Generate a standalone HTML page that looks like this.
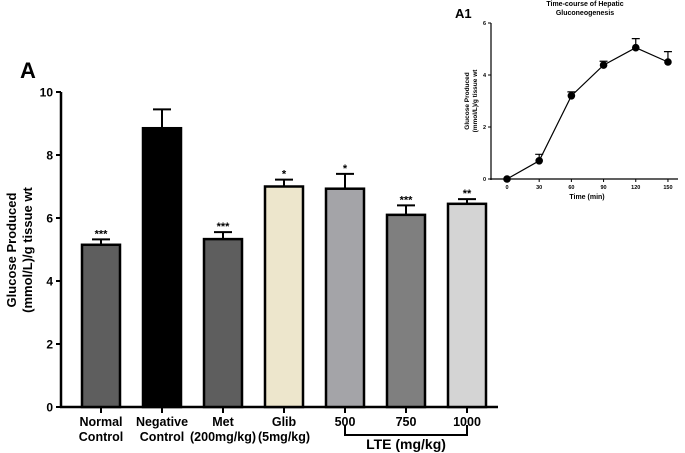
<!DOCTYPE html>
<html><head><meta charset="utf-8"><style>
body{margin:0;background:#fff;}
svg{display:block;font-family:"Liberation Sans",Arial,sans-serif;font-weight:bold;}
</style></head><body>
<svg id="chart" width="685" height="453" viewBox="0 0 685 453"></svg>
<script>
const categories=["Normal|Control","Negative|Control","Met|(200mg/kg)","Glib|(5mg/kg)","500","750","1000"];
const means=[5.15,8.85,5.33,7.0,6.93,6.1,6.45];
const errs=[0.17,0.6,0.22,0.22,0.47,0.3,0.15];
const stars=["***","","***","*","*","***","**"];
const colors=["#5e5e5e","#000000","#5e5e5e","#ede6cc","#a4a4a8","#7f7f7f","#d4d4d4"];
const yTicks=[0,2,4,6,8,10];
const timeX=[0,30,60,90,120,150];
const timeY=[0,0.7,3.2,4.38,5.05,4.5];
const timeErr=[0,0.25,0.15,0.15,0.35,0.4];
const insetYTicks=[0,2,4,6];

const NS="http://www.w3.org/2000/svg";
const svg=document.getElementById('chart');
function el(t,a,txt){const e=document.createElementNS(NS,t);for(const k in a)e.setAttribute(k,a[k]);if(txt!==undefined)e.textContent=txt;svg.appendChild(e);return e;}
// main axes
const y=v=>407-v*31.5;
const xc=i=>101+i*61;
let e;
e=el('text',{x:20,y:78,'font-size':22},'A');


e=el('line',{x1:61,y1:92,x2:61,y2:408,stroke:'#000','stroke-width':2.5});


e=el('line',{x1:60,y1:407,x2:498,y2:407,stroke:'#000','stroke-width':2.5});


yTicks.forEach(t=>{
 e=el('line',{x1:56,y1:y(t),x2:61,y2:y(t),stroke:'#000','stroke-width':2});
 
 
 e=el('text',{x:53,y:y(t)+4.5,'font-size':12,'text-anchor':'end'},t);
 
 
});
e=el('text',{transform:'translate(16,250) rotate(-90)','font-size':13,'text-anchor':'middle'});


e.innerHTML='<tspan x="0" dy="0">Glucose Produced</tspan><tspan x="0" dy="16">(mmol/L)/g tissue wt</tspan>';
means.forEach((m,i)=>{
 const cx=xc(i);
 e=el('line',{x1:cx,y1:y(m),x2:cx,y2:y(m+errs[i]),stroke:'#000','stroke-width':2});
 
 
 e=el('line',{x1:cx-9,y1:y(m+errs[i]),x2:cx+9,y2:y(m+errs[i]),stroke:'#000','stroke-width':2});
 
 
 e=el('rect',{x:cx-19,y:y(m),width:38,height:407-y(m),fill:colors[i],stroke:'#000','stroke-width':2.5});
 
 
 if(stars[i]){e=el('text',{x:cx,y:y(m+errs[i])-2,'font-size':11,'text-anchor':'middle'},stars[i]);
 
 }
 e=el('line',{x1:cx,y1:407,x2:cx,y2:413,stroke:'#000','stroke-width':2});
 
 
 const parts=categories[i].split('|');
 parts.forEach((p,j)=>{e=el('text',{x:cx,y:426+j*15,'font-size':12.5,'text-anchor':'middle'},p);
 
 });
});
e=el('path',{d:`M${xc(4)} 425 V435 H${xc(6)} V425`,fill:'none',stroke:'#000','stroke-width':2});


e=el('text',{x:xc(5),y:449,'font-size':14,'text-anchor':'middle'},'LTE (mg/kg)');


// inset
const iy=v=>179-v*26;
const ix=t=>507+t*1.073;
e=el('text',{x:455,y:18,'font-size':13},'A1');


e=el('text',{x:585,y:6,'font-size':7,'text-anchor':'middle'},'Time-course of Hepatic');


e=el('text',{x:585,y:15,'font-size':7,'text-anchor':'middle'},'Gluconeogenesis');


e=el('line',{x1:491,y1:23,x2:491,y2:180,stroke:'#000','stroke-width':1.2});


e=el('line',{x1:490,y1:179,x2:678,y2:179,stroke:'#000','stroke-width':1.2});


insetYTicks.forEach(t=>{
 e=el('line',{x1:488,y1:iy(t),x2:491,y2:iy(t),stroke:'#000','stroke-width':1});
 
 
 e=el('text',{x:486,y:iy(t)+2,'font-size':5.5,'text-anchor':'end'},t);
 
 
});
timeX.forEach(t=>{
 e=el('line',{x1:ix(t),y1:179,x2:ix(t),y2:182,stroke:'#000','stroke-width':1});
 
 
 e=el('text',{x:ix(t),y:189,'font-size':5.5,'text-anchor':'middle'},t);
 
 
});
e=el('text',{x:587,y:199,'font-size':7,'text-anchor':'middle'},'Time (min)');


e=el('text',{transform:'translate(469,101) rotate(-90)','font-size':6.5,'text-anchor':'middle'});


e.innerHTML='<tspan x="0" dy="0">Glucose Produced</tspan><tspan x="0" dy="8">(mmol/L)/g tissue wt</tspan>';
e=el('polyline',{points:timeX.map((t,i)=>ix(t)+','+iy(timeY[i])).join(' '),fill:'none',stroke:'#000','stroke-width':1.2});


timeX.forEach((t,i)=>{
 if(timeErr[i]>0){
 e=el('path',{d:`M${ix(t)} ${iy(timeY[i])} V${iy(timeY[i]+timeErr[i])} M${ix(t)-4} ${iy(timeY[i]+timeErr[i])} H${ix(t)+4}`,stroke:'#000','stroke-width':1.2,fill:'none'});
 
 }
 e=el('circle',{cx:ix(t),cy:iy(timeY[i]),r:3.8,fill:'#000'});
 
 
});
</script>
</body></html>
